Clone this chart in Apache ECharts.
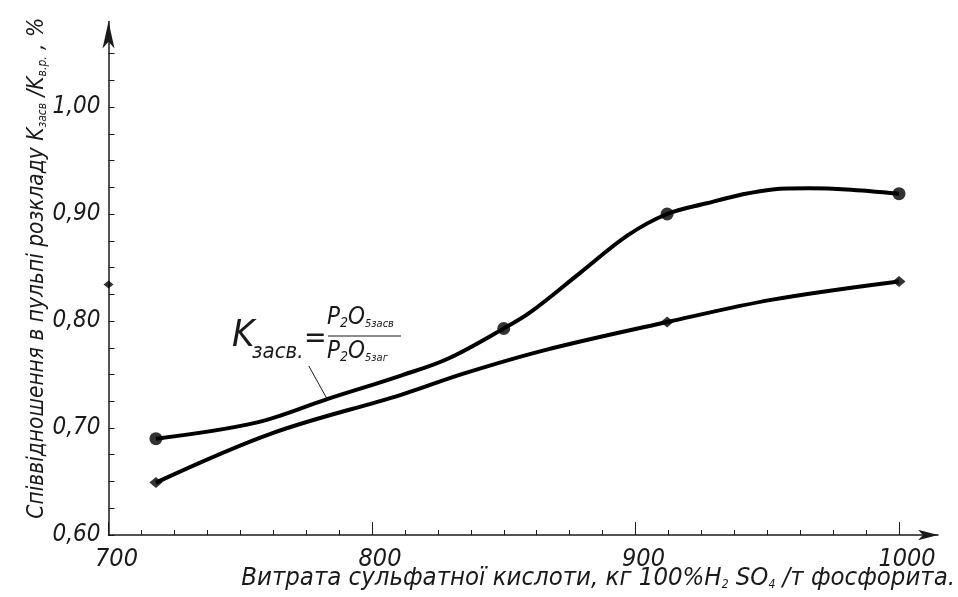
<!DOCTYPE html>
<html>
<head>
<meta charset="utf-8">
<script src="https://cdn.jsdelivr.net/npm/echarts@6/dist/echarts.min.js"></script>
<style>
  html, body { margin: 0; padding: 0; background: #fff; }
  #chart { width: 958px; height: 597px; }
</style>
</head>
<body>
<div id="chart"></div>
<script>
// Sulfuric acid consumption, kg 100% H2SO4 per tonne of phosphorite
const xTicks = [700, 800, 900, 1000];

// Upper curve (circles): measured points
const upperX = [718, 850, 912, 1000];
const upperY = [0.690, 0.793, 0.900, 0.919];
// Upper curve trace
const upperCurveX = [718, 756, 783, 811, 829, 850, 860, 879, 897, 912, 927, 940, 952, 966, 980, 1000];
const upperCurveY = [0.690, 0.705, 0.727, 0.749, 0.765, 0.793, 0.808, 0.845, 0.880, 0.900, 0.910, 0.918, 0.923, 0.924, 0.923, 0.919];

// Lower curve (diamonds): measured points
const lowerX = [718, 912, 1000];
const lowerY = [0.649, 0.799, 0.837];
// Lower curve trace
const lowerCurveX = [718, 762, 811, 835, 866, 912, 952, 1000];
const lowerCurveY = [0.649, 0.695, 0.731, 0.751, 0.773, 0.799, 0.820, 0.837];

// Projection mark on the vertical axis
const axisMarkX = [700];
const axisMarkY = [0.834];

// Leader line from the formula to the upper curve
const leaderX = [776, 783];
const leaderY = [0.758, 0.727];

const FONT = "'Liberation Sans Narrow', 'DejaVu Sans Condensed', 'Roboto Condensed', sans-serif";
const INK = '#1a1a1a';

const zip = (xs, ys) => xs.map((x, i) => [x, ys[i]]);

const chart = echarts.init(document.getElementById('chart'), null, { renderer: 'canvas' });

const baseText = { fontFamily: FONT, fontStyle: 'italic', color: INK };

chart.setOption({
  animation: false,
  backgroundColor: '#fff',
  grid: [
    { left: 108.5, top: 53.5, width: 790.5, height: 481.5, containLabel: false },
    { left: 108.5, top: 21.5, width: 829.5, height: 513.5, containLabel: false }
  ],
  xAxis: [
    {
      gridIndex: 0, type: 'value', min: 700, max: 1000, interval: 100,
      axisLine: { show: false },
      axisTick: { show: true, inside: true, length: 13, lineStyle: { color: INK, width: 1 } },
      minorTick: { show: true, splitNumber: 8, length: 5, lineStyle: { color: INK, width: 1 } },
      splitLine: { show: false }, minorSplitLine: { show: false },
      axisLabel: Object.assign({
        fontSize: 25, margin: 12, padding: [0, 0, 0, 16],
        formatter: function (v) { return xTicks.indexOf(v) >= 0 ? String(v) : ''; }
      }, baseText)
    },
    {
      gridIndex: 1, type: 'value', min: 0, max: 1,
      axisLine: { show: true, symbol: ['none', 'arrow'], symbolSize: [8, 20], lineStyle: { color: INK, width: 1.5 } },
      axisTick: { show: false }, axisLabel: { show: false }, splitLine: { show: false }
    }
  ],
  yAxis: [
    {
      gridIndex: 0, type: 'value', min: 0.6, max: 1.05, interval: 0.025,
      axisLine: { show: false },
      axisTick: { show: true, inside: true, length: 6, lineStyle: { color: INK, width: 1 } },
      splitLine: { show: false },
      axisLabel: Object.assign({
        fontSize: 24, margin: 8,
        formatter: function (v) {
          const r = Math.round(v * 1000);
          if (r % 100 === 0 && r <= 1000) return (r / 1000).toFixed(2).replace('.', ',');
          return '';
        }
      }, baseText)
    },
    {
      gridIndex: 1, type: 'value', min: 0, max: 1,
      axisLine: { show: true, symbol: ['none', 'arrow'], symbolSize: [9, 27], lineStyle: { color: INK, width: 1.5 } },
      axisTick: { show: false }, axisLabel: { show: false }, splitLine: { show: false },
      name: 'Співвідношення в пульпі розкладу K{s|засв} /K{s|в.р.} , %',
      nameLocation: 'middle', nameRotate: 90, nameGap: 60,
      nameTextStyle: {
        fontFamily: FONT, fontStyle: 'italic', color: INK, fontSize: 22.5,
        padding: [0, 0, 0, 20],
        rich: { s: { fontFamily: FONT, fontStyle: 'italic', color: INK, fontSize: 12, verticalAlign: 'bottom', padding: [6, 0, 0, 0] } }
      }
    }
  ],
  graphic: [
    {
      type: 'text', right: 3, top: 565,
      style: {
        text: 'Витрата сульфатної кислоти, кг 100%H{s|2} SO{s|4} /т фосфорита.',
        fontFamily: FONT, fontStyle: 'italic', fill: INK, fontSize: 25.5,
        rich: { s: { fontFamily: FONT, fontStyle: 'italic', fill: INK, fontSize: 12, verticalAlign: 'bottom', padding: [8, 0, 0, 0] } }
      }
    },
    {
      type: 'text', x: 232, y: 336,
      style: { text: 'K', fontFamily: FONT, fontStyle: 'italic', fill: INK, fontSize: 38, align: 'left', verticalAlign: 'middle' }
    },
    {
      type: 'text', x: 252, y: 352,
      style: { text: 'засв.', fontFamily: FONT, fontStyle: 'italic', fill: INK, fontSize: 22, align: 'left', verticalAlign: 'middle' }
    },
    {
      type: 'text', x: 304, y: 339,
      style: { text: '=', fontFamily: FONT, fontStyle: 'italic', fill: INK, fontSize: 30, align: 'left', verticalAlign: 'middle' }
    },
    {
      type: 'text', x: 327, y: 318,
      style: {
        text: 'P{s|2}O{t|5засв}', fontFamily: FONT, fontStyle: 'italic', fill: INK, fontSize: 24, align: 'left', verticalAlign: 'middle',
        rich: {
          s: { fontFamily: FONT, fontStyle: 'italic', fill: INK, fontSize: 14, verticalAlign: 'bottom' },
          t: { fontFamily: FONT, fontStyle: 'italic', fill: INK, fontSize: 11, verticalAlign: 'bottom' }
        }
      }
    },
    {
      type: 'line', shape: { x1: 328, y1: 336, x2: 401, y2: 336 },
      style: { stroke: INK, lineWidth: 1 }
    },
    {
      type: 'text', x: 327, y: 352,
      style: {
        text: 'P{s|2}O{t|5заг}', fontFamily: FONT, fontStyle: 'italic', fill: INK, fontSize: 24, align: 'left', verticalAlign: 'middle',
        rich: {
          s: { fontFamily: FONT, fontStyle: 'italic', fill: INK, fontSize: 14, verticalAlign: 'bottom' },
          t: { fontFamily: FONT, fontStyle: 'italic', fill: INK, fontSize: 11, verticalAlign: 'bottom' }
        }
      }
    }
  ],
  series: [
    {
      name: 'upper', type: 'line', xAxisIndex: 0, yAxisIndex: 0,
      data: zip(upperCurveX, upperCurveY), smooth: 0.35, showSymbol: false,
      lineStyle: { color: '#000', width: 4 },
      markLine: {
        silent: true, symbol: ['none', 'none'], label: { show: false },
        lineStyle: { color: INK, width: 1, type: 'solid' },
        data: [[{ coord: [leaderX[0], leaderY[0]] }, { coord: [leaderX[1], leaderY[1]] }]]
      }
    },
    {
      name: 'upperPts', type: 'scatter', xAxisIndex: 0, yAxisIndex: 0,
      data: zip(upperX, upperY), symbol: 'circle', symbolSize: 13,
      itemStyle: { color: '#000' }
    },
    {
      name: 'lower', type: 'line', xAxisIndex: 0, yAxisIndex: 0,
      data: zip(lowerCurveX, lowerCurveY), smooth: 0.35, showSymbol: false,
      lineStyle: { color: '#000', width: 4 }
    },
    {
      name: 'lowerPts', type: 'scatter', xAxisIndex: 0, yAxisIndex: 0,
      data: zip(lowerX, lowerY), symbol: 'diamond', symbolSize: [13, 11],
      itemStyle: { color: '#000' }
    },
    {
      name: 'axisMark', type: 'scatter', xAxisIndex: 0, yAxisIndex: 0,
      data: zip(axisMarkX, axisMarkY), symbol: 'diamond', symbolSize: [10, 8],
      clip: false, itemStyle: { color: '#000' }, z: 5
    }
  ]
});
</script>
</body>
</html>
